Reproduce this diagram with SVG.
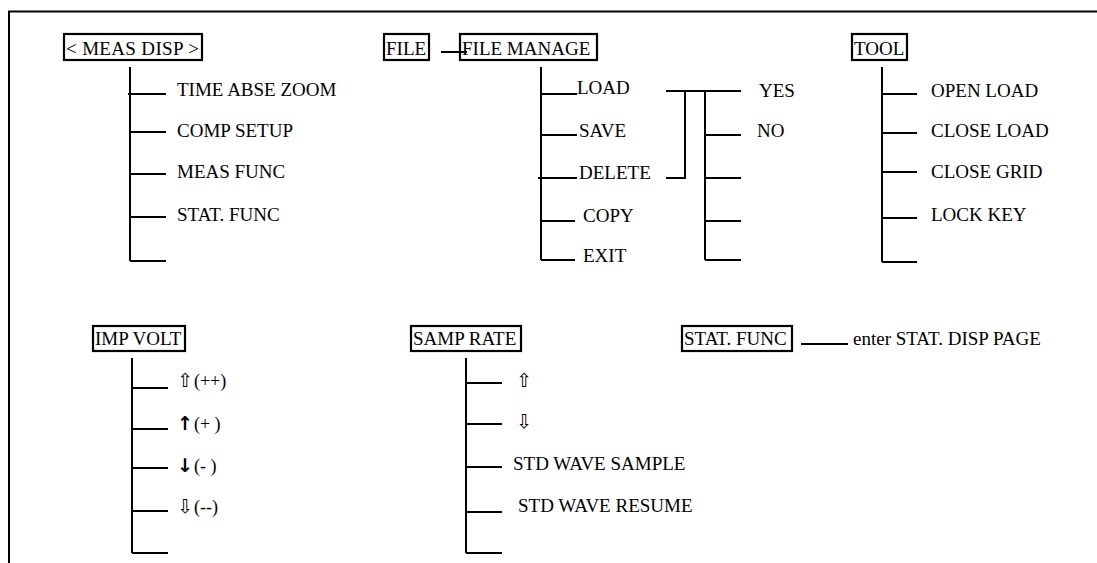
<svg xmlns="http://www.w3.org/2000/svg" width="1097" height="563" viewBox="0 0 1097 563">
<style>
  .ln{stroke:#000;stroke-width:2;fill:none}
  .bx{stroke:#000;stroke-width:2.2;fill:none}
  text{font-family:'Liberation Serif','Times New Roman',serif;font-size:19px;fill:#000}
  .ar{font-family:'DejaVu Sans',sans-serif;font-size:19px}
  .sm{font-size:18px}
</style>
<rect width="1097" height="563" fill="#fff"/>
<path class="ln" d="M1097 11.5H9V563"/>
<g id="connectors">
  <path class="ln" d="M130 67V261M128 94H166M130 132H166M130 174H166M130 217H166M130 261H166"/>
  <path class="ln" d="M441 52H467"/>
  <path class="ln" d="M541 67V260M541 94H577M541 135H577M538 178H577M541 221H575M541 260H575"/>
  <path class="ln" d="M666 91H741M685 91V178H666M705 91V260M705 135H741M705 178H741M705 221H741M705 260H741"/>
  <path class="ln" d="M882 67V262M882 94H917M882 133H917M882 172H917M882 218H917M882 262H917"/>
  <path class="ln" d="M132 358V553M132 388H168M132 429H168M132 468H168M132 511H168M132 553H168"/>
  <path class="ln" d="M466 358V553M466 383H502M466 424H502M466 467H502M466 512H502M466 553H502"/>
  <path class="ln" d="M801 344H848"/>
</g>
<g id="meas-disp">
  <rect class="bx" x="64" y="34" width="138" height="26"/>
  <text x="66" y="55" textLength="133">&lt; MEAS DISP &gt;</text>
</g>
<g id="meas-items">
  <text x="177" y="96">TIME ABSE ZOOM</text>
  <text x="177" y="137">COMP SETUP</text>
  <text x="177" y="178">MEAS FUNC</text>
  <text x="177" y="221">STAT. FUNC</text>
</g>
<g id="file">
  <rect class="bx" x="384" y="34" width="45" height="26"/>
  <text x="386" y="55">FILE</text>
</g>
<g id="file-manage">
  <rect class="bx" x="460" y="34" width="137" height="26"/>
  <text x="462" y="55">FILE MANAGE</text>
</g>
<g id="file-items">
  <text x="577" y="94">LOAD</text>
  <text x="579" y="137">SAVE</text>
  <text x="579" y="179">DELETE</text>
  <text x="583" y="222">COPY</text>
  <text x="583" y="262">EXIT</text>
  <text x="759" y="97">YES</text>
  <text x="757" y="137">NO</text>
</g>
<g id="tool">
  <rect class="bx" x="852" y="34" width="55" height="26"/>
  <text x="854" y="55">TOOL</text>
</g>
<g id="tool-items">
  <text x="931" y="97">OPEN LOAD</text>
  <text x="931" y="137">CLOSE LOAD</text>
  <text x="931" y="178">CLOSE GRID</text>
  <text x="931" y="221">LOCK KEY</text>
</g>
<g id="imp-volt">
  <rect class="bx" x="93" y="326" width="92" height="25"/>
  <text x="95" y="345">IMP VOLT</text>
</g>
<g id="imp-items">
  <text x="177" y="387" class="sm"><tspan class="ar" font-size="16">⇧</tspan><tspan dx="1">(++)</tspan></text>
  <text x="177" y="430" class="sm"><tspan class="ar" font-size="16" font-weight="bold">↑</tspan><tspan dx="1">(+ )</tspan></text>
  <text x="177" y="472" class="sm"><tspan class="ar" font-size="16" font-weight="bold">↓</tspan><tspan dx="1">(- )</tspan></text>
  <text x="177" y="513" class="sm"><tspan class="ar" font-size="16">⇩</tspan><tspan dx="1">(--)</tspan></text>
</g>
<g id="samp-rate">
  <rect class="bx" x="411" y="326" width="110" height="25"/>
  <text x="413" y="345">SAMP RATE</text>
</g>
<g id="samp-items">
  <text x="516" y="387" class="ar">⇧</text>
  <text x="516" y="428" class="ar">⇩</text>
  <text x="513" y="470">STD WAVE SAMPLE</text>
  <text x="518" y="512">STD WAVE RESUME</text>
</g>
<g id="stat-func">
  <rect class="bx" x="682" y="326" width="110" height="25"/>
  <text x="684" y="345">STAT. FUNC</text>
</g>
<g id="stat-target">
  <text x="853" y="345">enter STAT. DISP PAGE</text>
</g>
</svg>
